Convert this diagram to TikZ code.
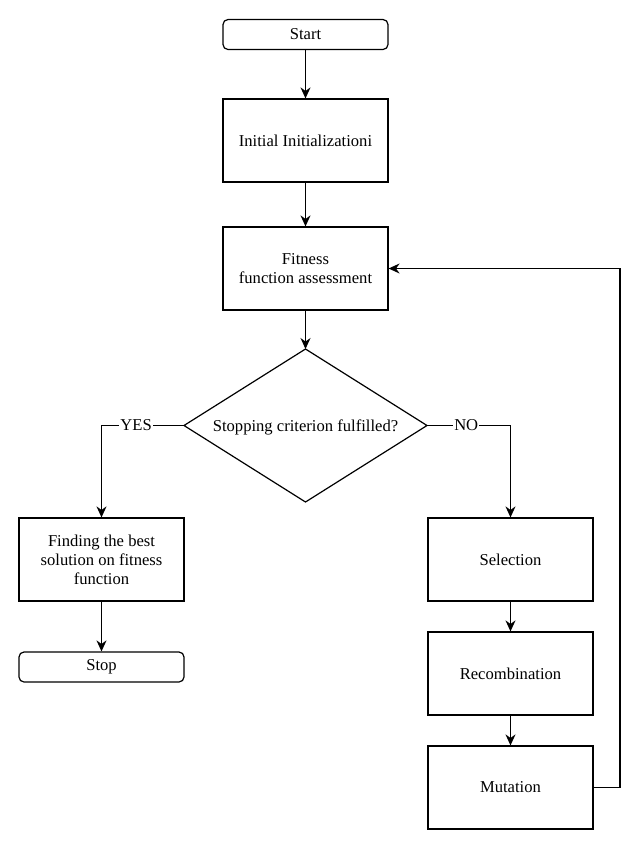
\documentclass[tikz,border=0pt]{standalone}
\usepackage{fontspec}
\setmainfont{Liberation Serif}
\usetikzlibrary{shapes.geometric,arrows.meta}
\begin{document}
\begin{tikzpicture}[x=1pt,y=-1pt,
  font=\fontsize{16.6}{19}\selectfont,
  box/.style={draw, line width=1.2pt, minimum width=165pt, minimum height=83pt, align=center, inner sep=2pt},
  term/.style={draw, line width=1.2pt, rounded corners=5pt, minimum width=165pt, minimum height=30pt, align=center},
  arr/.style={line width=1.2pt, -{Stealth[length=11pt,width=10pt]}},
  lab/.style={fill=white, inner sep=1pt}
]
\useasboundingbox (0,0) rectangle (644,847);
\node[term] (start) at (305.5,34.5) {Start};
\node[box] (init) at (305.5,140.5) {Initial Initializationi};
\node[box] (fit) at (305.5,268.5) {Fitness\\function assessment};
\coordinate (dt) at (305.5,349);
\coordinate (dl) at (184,425.5);
\coordinate (dr) at (427,425.5);
\coordinate (db) at (305.5,502);
\draw[line width=1.2pt] (dt) -- (dr) -- (db) -- (dl) -- cycle;
\node (dec) at (305.5,427) {Stopping criterion fulfilled?};
\node[box] (best) at (101.5,559.5) {Finding the best\\solution on fitness\\function};
\node[term] (stop) at (101.5,667) {Stop};
\node[box] (sel) at (510.5,559.5) {Selection};
\node[box] (rec) at (510.5,673.5) {Recombination};
\node[box] (mut) at (510.5,787.5) {Mutation};
\coordinate (fb1) at (620,787.5);
\coordinate (fb2) at (620,268.5);

\draw[arr] (start) -- (init);
\draw[arr] (init) -- (fit);
\draw[arr] (fit) -- (dt);
\draw[arr] (dl) -| node[lab, pos=0.29] {YES} (best.north);
\draw[arr] (dr) -| node[lab, pos=0.235] {NO} (sel.north);
\draw[arr] (best) -- (stop);
\draw[arr] (sel) -- (rec);
\draw[arr] (rec) -- (mut);
\draw[arr] (mut.east) -- (fb1) -- (fb2) -- (fit.east);
\end{tikzpicture}
\end{document}
